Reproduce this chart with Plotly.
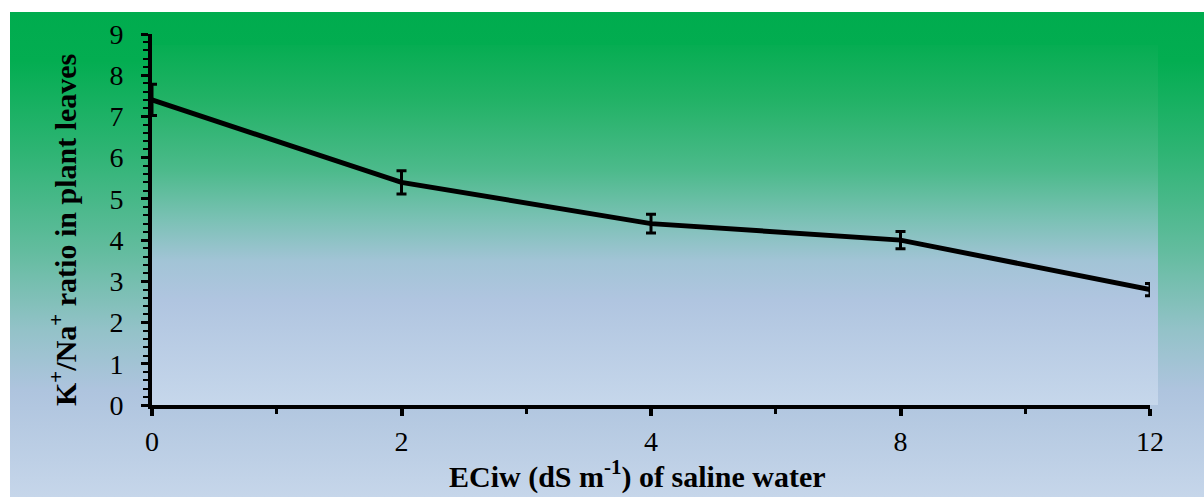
import base64
import plotly.graph_objects as go

# ---- data ----
ec_levels = ["0", "2", "4", "8", "12"]          # ECiw (dS m-1) categories
k_na_ratio = [7.4, 5.4, 4.4, 4.0, 2.8]          # K+/Na+ ratio in plant leaves
k_na_err = [0.38, 0.28, 0.23, 0.21, 0.15]       # error bars
y_ticks = list(range(0, 10))

x_pos = list(range(len(ec_levels)))

# ---- layout geometry (px) ----
W, H = 1204, 497
L, R, T, B = 152, 54, 34, 92
PW = W - L - R
PH = H - T - B


def px_x(px):
    return (px - L) / PW


def px_y(py):
    return (H - B - py) / PH


def grad_svg(stops):
    st = "".join(f'<stop offset="{o}" stop-color="{c}"/>' for o, c in stops)
    svg = ('<svg xmlns="http://www.w3.org/2000/svg" width="100" height="100" '
           'viewBox="0 0 100 100" preserveAspectRatio="none">'
           '<defs><linearGradient id="g" x1="0" y1="0" x2="0" y2="1">'
           f'{st}</linearGradient></defs>'
           '<rect x="0" y="0" width="100" height="100" fill="url(#g)"/></svg>')
    return "data:image/svg+xml;base64," + base64.b64encode(svg.encode()).decode()


outer_stops = [(0, "#00AC4E"), (0.10, "#03AD51"), (0.285, "#2DB473"),
               (0.49, "#62BC9E"), (0.655, "#93C2C8"), (0.78, "#AEC4DE"),
               (1, "#C6D6EA")]
plot_stops = [(0, "#06AD52"), (0.153, "#22B266"), (0.347, "#4CBA8B"),
              (0.486, "#7BC1B5"), (0.6, "#A2C4D6"), (0.71, "#B0C5E0"),
              (1, "#C6D7EB")]

fig = go.Figure()
fig.add_trace(go.Scatter(
    x=x_pos, y=k_na_ratio, mode="lines",
    line=dict(color="black", width=5),
    error_y=dict(type="data", array=k_na_err, visible=True,
                 color="black", thickness=3, width=5),
    cliponaxis=True, showlegend=False,
))

font_fam = "Liberation Serif, Times New Roman, serif"
TICK_SIZE = 28
TITLE_SIZE = 30

fig.update_layout(
    width=W, height=H,
    margin=dict(l=L, r=R, t=T, b=B, autoexpand=False),
    paper_bgcolor="white",
    plot_bgcolor="rgba(0,0,0,0)",
    font=dict(family=font_fam, size=TICK_SIZE, color="black"),
    images=[
        dict(source=grad_svg(outer_stops), xref="paper", yref="paper",
             x=px_x(10), y=px_y(12), sizex=(W - 10) / PW, sizey=(H - 12) / PH,
             xanchor="left", yanchor="top", sizing="stretch", layer="below"),
        dict(source=grad_svg(plot_stops), xref="paper", yref="paper",
             x=px_x(152), y=px_y(45), sizex=(1158 - 152) / PW,
             sizey=(405 - 45) / PH,
             xanchor="left", yanchor="top", sizing="stretch", layer="below"),
    ],
    xaxis=dict(
        range=[0, len(ec_levels) - 1], tickmode="array",
        tickvals=x_pos, ticktext=ec_levels,
        showgrid=False, zeroline=False,
        showline=True, linecolor="black", linewidth=4,
        ticks="outside", ticklen=7, tickwidth=4, tickcolor="black",
        ticklabelstandoff=1,
        minor=dict(dtick=0.5, tick0=0, ticks="outside", ticklen=5,
                   tickwidth=3, tickcolor="black"),
        tickfont=dict(family=font_fam, size=TICK_SIZE),
    ),
    yaxis=dict(
        range=[0, 9], tickmode="array", tickvals=y_ticks,
        showgrid=False, zeroline=False,
        showline=True, linecolor="black", linewidth=4,
        ticks="outside", ticklen=7, tickwidth=3, tickcolor="black",
        ticklabelstandoff=12,
        minor=dict(dtick=0.2, tick0=0, ticks="outside", ticklen=5,
                   tickwidth=2, tickcolor="black"),
        tickfont=dict(family=font_fam, size=TICK_SIZE),
    ),
    annotations=[
        dict(text="<b>ECiw (dS m<sup>-1</sup>) of saline water</b>",
             xref="paper", yref="paper", x=px_x(637), y=px_y(474),
             xanchor="center", yanchor="middle", showarrow=False,
             font=dict(family=font_fam, size=TITLE_SIZE)),
        dict(text="<b>K<sup>+</sup>/Na<sup>+</sup> ratio in plant leaves</b>",
             xref="paper", yref="paper", x=px_x(63), y=px_y(230),
             xanchor="center", yanchor="middle", textangle=-90,
             showarrow=False, font=dict(family=font_fam, size=TITLE_SIZE)),
    ],
)

fig.write_html("out.html")
